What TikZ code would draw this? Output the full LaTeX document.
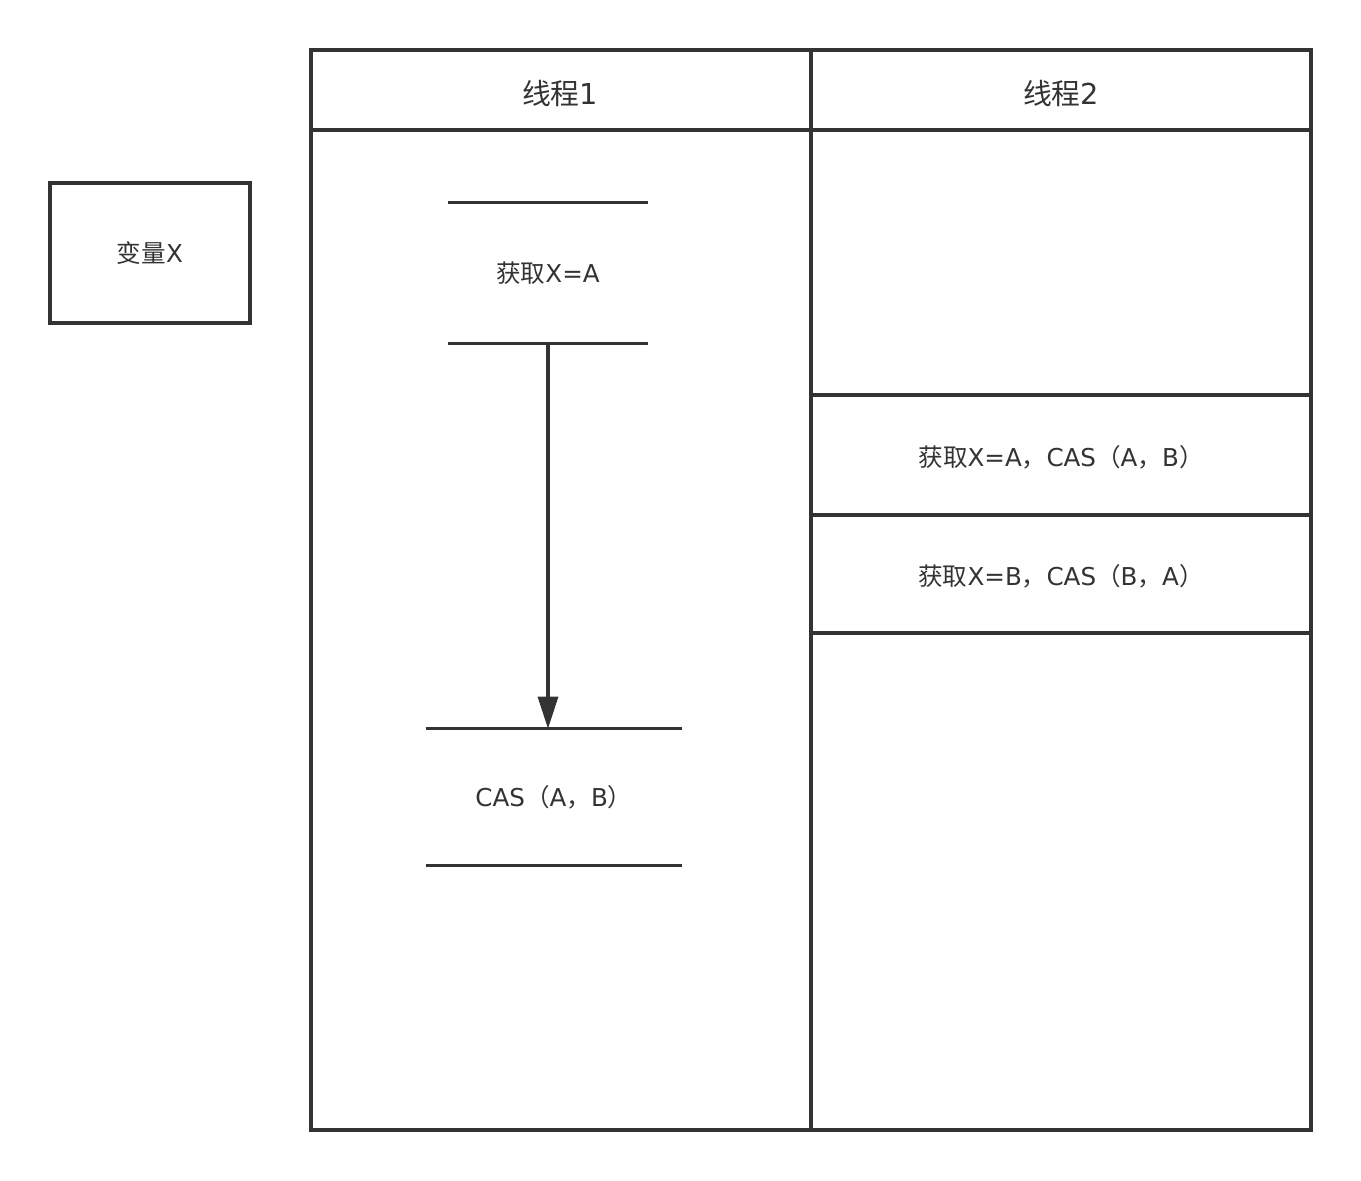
\documentclass[tikz,border=0pt]{standalone}
\usepackage{fontspec}
\setmainfont{DejaVu Sans}
\newfontfamily\cjk{Noto Sans CJK SC}
\usetikzlibrary{arrows.meta}
\definecolor{inkgray}{HTML}{333333}
\tikzset{
  frame/.style={draw=inkgray,line width=1.9pt},
  lbl/.style={text=inkgray,font=\fontsize{14}{17}\selectfont,inner sep=0pt},
  head/.style={text=inkgray,font=\fontsize{16.4}{19}\selectfont},
  flow/.style={draw=inkgray,line width=1.9pt,-{Triangle[length=6.4mm,width=4mm]}}
}

\begin{document}
\begin{tikzpicture}[x=0.02cm,y=-0.02cm]
  \useasboundingbox (0,0) rectangle (1361,1180);
  \node[frame,lbl,minimum width=4cm,minimum height=2.8cm] (varX) at (150,253) {{\cjk 变量}X};
  % lanes
  \draw[frame] (311,50) rectangle (1311,1130);
  \draw[frame] (311,130) -- (1311,130);
  \draw[frame] (811,50) -- (811,1130);
  \node[head] (t1) at (560,93) {{\cjk 线程}1};
  \node[head] (t2) at (1061,93) {{\cjk 线程}2};
  % thread 1
  \node[lbl,minimum width=4cm,minimum height=2.8cm] (getA) at (548,273) {{\cjk 获取}X=A};
  \draw[frame] (getA.north west) -- (getA.north east);
  \draw[frame] (getA.south west) -- (getA.south east);
  \node[lbl,minimum width=5.12cm,minimum height=2.72cm] (casAB) at (554,797) {CAS{\cjk （}A{\cjk ，}B{\cjk ）}};
  \draw[frame] (casAB.north west) -- (casAB.north east);
  \draw[frame] (casAB.south west) -- (casAB.south east);
  \draw[flow] (getA.south) -- (getA.south |- casAB.north);
  % thread 2
  \draw[frame] (811,395) -- (1311,395);
  \draw[frame] (811,515) -- (1311,515);
  \draw[frame] (811,633) -- (1311,633);
  \node[lbl] (stepAB) at (1061,457) {{\cjk 获取}X=A{\cjk ，}CAS{\cjk （}A{\cjk ，}B{\cjk ）}};
  \node[lbl] (stepBA) at (1061,576) {{\cjk 获取}X=B{\cjk ，}CAS{\cjk （}B{\cjk ，}A{\cjk ）}};
\end{tikzpicture}
\end{document}
